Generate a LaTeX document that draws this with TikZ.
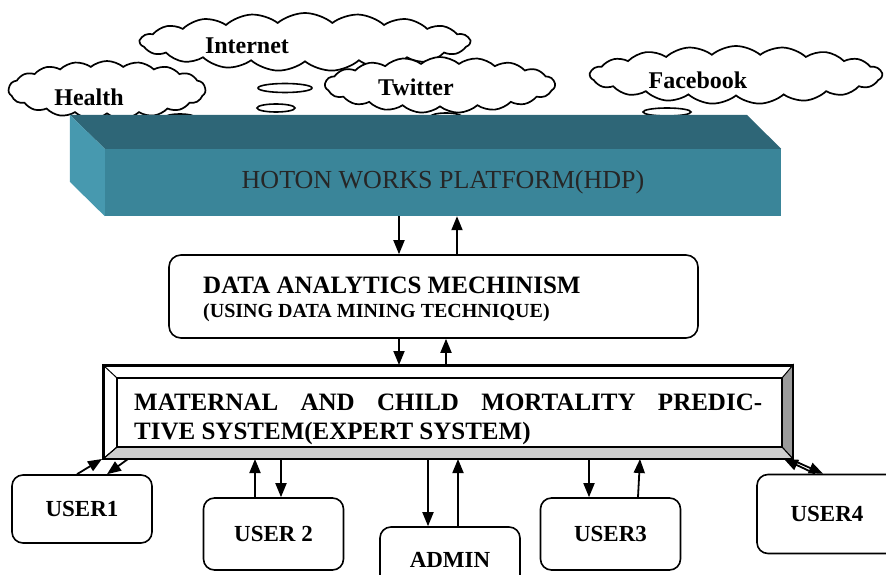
\documentclass[tikz,border=0pt]{standalone}
\usepackage{fontspec}
\setmainfont{Liberation Serif}
\usetikzlibrary{shapes.symbols}
\usetikzlibrary{arrows.meta}

\definecolor{hdpfront}{HTML}{3A8599}
\definecolor{hdptop}{HTML}{2E6677}
\definecolor{hdpside}{HTML}{4799AF}
\definecolor{bevelright}{HTML}{9A9A9A}
\definecolor{bevelbottom}{HTML}{CFCFCF}

\begin{document}
\begin{tikzpicture}[x=1pt,y=-1pt,
  cloudbox/.style={cloud, cloud puffs=19, cloud puff arc=80, cloud ignores aspect,
    draw, fill=white, line width=1.7pt, inner sep=0pt},
  cloudtext/.style={font=\bfseries\fontsize{24}{28}\selectfont, inner sep=0pt},
  bubble/.style={draw, fill=white, line width=1.6pt},
  userbox/.style={draw, fill=white, rounded corners=11pt, line width=1.6pt,
    minimum width=140pt, font=\bfseries\fontsize{23}{26}\selectfont},
  flow/.style={-{Triangle[length=14pt,width=11pt]}, line width=1.8pt}]
\useasboundingbox (0,0) rectangle (886,575);

% data sources
\node[cloudbox, minimum width=330pt, minimum height=58pt] (cinternet) at (305,42) {};
\node[cloudbox, minimum width=197pt, minimum height=58pt] (chealth) at (107,90) {};
\node[cloudbox, minimum width=230pt, minimum height=56pt] (ctwitter) at (440,85) {};
\node[cloudbox, minimum width=292pt, minimum height=58pt] (cfacebook) at (736,75) {};
\node[cloudtext] (internet) at (247,46) {Internet};
\node[cloudtext] (health) at (89,97) {Health};
\node[cloudtext] (twitter) at (416,87) {Twitter};
\node[cloudtext] (facebook) at (698,80) {Facebook};
\draw[bubble] (285,88) ellipse [x radius=27pt, y radius=4.5pt];
\draw[bubble] (276,108) ellipse [x radius=19pt, y radius=4pt];
\draw[bubble] (667,112) ellipse [x radius=24pt, y radius=4pt];
\draw[bubble] (180,118) ellipse [x radius=16pt, y radius=4pt];
\draw[bubble] (446,117) ellipse [x radius=16pt, y radius=4pt];

% platform
\node[fill=hdpfront, minimum width=676pt, minimum height=67pt, inner sep=0pt,
  font=\fontsize{26}{28}\selectfont, text=black!85] (hdp) at (443,182.5)
  {HOTON WORKS PLATFORM(HDP)};
\fill[hdptop] (hdp.north west) -- ++(-35,-34) -- (747,115) -- (hdp.north east) -- cycle;
\fill[hdpside] (hdp.north west) -- ++(-35,-34) -- ++(0,67) -- (hdp.south west) -- cycle;

% analytics
\node[draw, fill=white, rounded corners=12pt, line width=1.6pt,
  minimum width=529pt, minimum height=83pt] (dam) at (433.5,296.5) {};
\node[anchor=west, inner sep=0pt, align=left,
  font=\bfseries\fontsize{25}{24}\selectfont] (damtext) at (203,299)
  {DATA ANALYTICS MECHINISM\\{\fontsize{20}{24}\selectfont (USING DATA MINING TECHNIQUE)}};

% expert system
\node[draw, line width=2pt, minimum width=688pt, minimum height=92pt, inner sep=0pt] (mcmps) at (448,412) {};
\node[minimum width=665pt, minimum height=69pt, inner sep=0pt] (mcmpsin) at (449.5,412.5) {};
\draw[fill=bevelright, line width=1pt] (mcmps.north east) -- (mcmps.south east) -- (mcmpsin.south east) -- (mcmpsin.north east) -- cycle;
\draw[fill=bevelbottom, line width=1pt] (mcmps.south west) -- (mcmps.south east) -- (mcmpsin.south east) -- (mcmpsin.south west) -- cycle;
\draw[line width=1pt] (mcmps.north west) -- (mcmpsin.north west) (mcmps.south west) -- (mcmpsin.south west);
\draw[line width=1.6pt] (mcmpsin.south west) rectangle (mcmpsin.north east);
\draw[line width=2pt] (mcmps.south west) rectangle (mcmps.north east);
\node[anchor=north west, inner sep=0pt, align=left,
  font=\bfseries\fontsize{25}{29}\selectfont] (mcmpstext) at (134,394)
  {\makebox[628pt][s]{MATERNAL AND CHILD MORTALITY PREDIC-}\\TIVE SYSTEM(EXPERT SYSTEM)};

% users
\node[userbox, minimum height=68pt] (user1) at (82,509) {USER1};
\node[userbox, minimum height=72pt] (user2) at (273.5,534) {USER 2};
\node[userbox, minimum height=66pt] (admin) at (450,560) {ADMIN};
\node[userbox, minimum height=72pt] (user3) at (610.5,534) {USER3};
\node[userbox, minimum height=79pt] (user4) at (827,514) {USER4};

% connectors
\draw[flow] (399,0 |- hdp.south) -- (399,0 |- dam.north);
\draw[flow] (457,0 |- dam.north) -- (457,0 |- hdp.south);
\draw[flow] (399,0 |- dam.south) -- (399,0 |- mcmps.north);
\draw[flow] (446,0 |- mcmps.north) -- (446,0 |- dam.south);
\draw[flow] (77,0 |- user1.north) -- (102,0 |- mcmps.south);
\draw[flow] (128,0 |- mcmps.south) -- (107,0 |- user1.north);
\draw[flow] (255,0 |- user2.north) -- (255,0 |- mcmps.south);
\draw[flow] (281,0 |- mcmps.south) -- (281,0 |- user2.north);
\draw[flow] (428,0 |- mcmps.south) -- (428,0 |- admin.north);
\draw[flow] (458,0 |- admin.north) -- (458,0 |- mcmps.south);
\draw[flow] (589,0 |- mcmps.south) -- (589,0 |- user3.north);
\draw[flow] (638,0 |- user3.north) -- (640,0 |- mcmps.south);
\draw[flow] (815,0 |- user4.north) -- (784,0 |- mcmps.south);
\draw[flow] (790,0 |- mcmps.south) -- (823,0 |- user4.north);
\end{tikzpicture}
\end{document}
